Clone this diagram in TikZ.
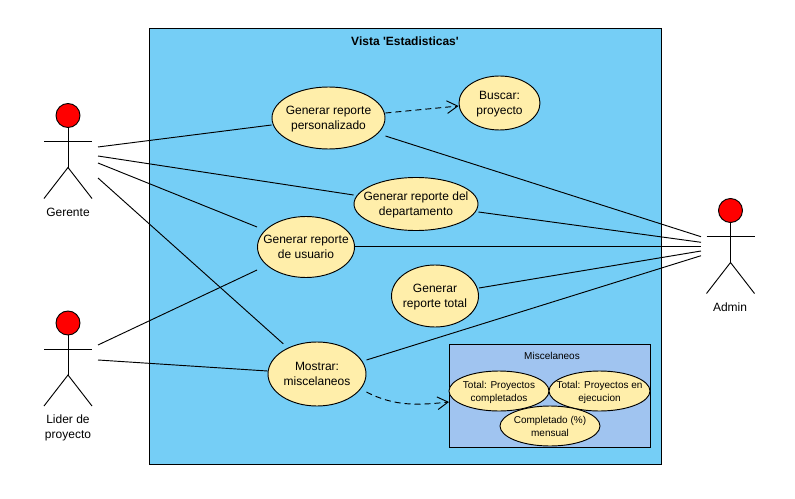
\documentclass[tikz,border=0pt]{standalone}
\usepackage{fontspec}
\setmainfont{Liberation Sans}
\usetikzlibrary{shapes.geometric,arrows.meta}
\definecolor{fondo}{RGB}{117,206,246}
\definecolor{caja}{RGB}{160,196,240}
\definecolor{crema}{RGB}{255,238,170}
\tikzset{
  cas/.style 2 args={ellipse,draw=black,fill=crema,align=center,inner xsep=-16pt,inner ysep=-8pt,
    text depth=0pt,font=\fontsize{9}{11.4}\selectfont,minimum width=#1*0.75pt,minimum height=#2*0.75pt},
  mini/.style 2 args={cas={#1}{#2},font=\fontsize{7.5}{9.6}\selectfont},
  rotulo/.style={align=center,font=\fontsize{9}{11.4}\selectfont},
  dep/.style={dash pattern=on 4.5pt off 3pt,-{Straight Barb[length=8pt,width=9.5pt]}}
}
\begin{document}
\begin{tikzpicture}[x=0.75pt,y=-0.75pt,line width=0.7pt]
\useasboundingbox (0,0) rectangle (795,499);
% vista
\draw[fill=fondo](149,28)rectangle(661,464);
\node[rotulo,font=\fontsize{9}{11.4}\selectfont\bfseries] (titulo) at (405,41) {Vista \textquotesingle Estadisticas\textquotesingle};
\draw[fill=caja](449,344)rectangle(650,447);
\node[rotulo,font=\fontsize{7.5}{9.6}\selectfont] (subtitulo) at (552,356) {Miscelaneos};
% casos de uso
\node[cas={113}{62}] (personal) at (328.5,118) {Generar reporte\\personalizado};
\node[cas={81}{54}] (buscar) at (499.5,103) {Buscar:\\proyecto};
\node[cas={124}{53}] (depto) at (416,204) {Generar reporte del\\departamento};
\node[cas={97}{61}] (usuario) at (306,247) {Generar reporte\\de usuario};
\node[cas={87}{62}] (total) at (435,296) {Generar\\reporte total};
\node[cas={98}{64}] (mostrar) at (317,374) {Mostrar:\\miscelaneos};
\node[mini={100}{40}] (compl) at (499,391) {Total: Proyectos\\completados};
\node[mini={101}{40}] (ejec) at (599.5,391) {Total: Proyectos en\\ejecucion};
\node[mini={100}{40}] (porc) at (550,426) {Completado (\%)\\mensual};
% actores
\foreach \n/\x/\y in {gerente/68/115.5,lider/68/323,admin/730.5/210.5}{
  \draw[fill=red](\x,\y)circle[radius=9pt];
  \draw(\x,\y+12)--(\x,\y+52);
  \draw(\x-24,\y+26)--(\x+24,\y+26);
  \draw(\x-24,\y+83)--(\x,\y+52)--(\x+24,\y+83);
}
\node[rotulo] (lgerente) at (68,212) {Gerente};
\node[rotulo] (llider) at (68,427.5) {Lider de\\proyecto};
\node[rotulo] (ladmin) at (730,307) {Admin};
% extremos libres
\coordinate (g1) at (98,147);
\coordinate (g2) at (98,156);
\coordinate (g3) at (98,163);
\coordinate (g4) at (98,178);
\coordinate (l1) at (98,345);
\coordinate (l2) at (98,360);
\coordinate (a1) at (701,236.7);
\coordinate (a2) at (701,242.3);
\coordinate (a3) at (701,246.5);
\coordinate (a4) at (701,251);
\coordinate (a5) at (701,255.7);
\coordinate (mcaja) at (449,402);
% conexiones
\draw(g1)--(personal.west |- 0,125);
\draw(g2)--(depto.west |- 0,195);
\draw(g3)--(usuario.west |- 0,227);
\draw[shorten >=4.5pt](g4)--(mostrar);
\draw(l1)--(usuario.west |- 0,270);
\draw(l2)--(mostrar.west |- 0,371);
\draw(personal.east |- 0,136)--(a1);
\draw(depto.east |- 0,212)--(a2);
\draw(usuario.east |- a3)--(a3);
\draw(total.east |- 0,288)--(a4);
\draw(mostrar.east |- 0,360)--(a5);
\draw[dep](personal.east |- 0,113)--(buscar.west |- 0,106);
\draw[dep](mostrar.east |- 0,392) .. controls (395,407) and (420,405) .. (mcaja);
\end{tikzpicture}
\end{document}
